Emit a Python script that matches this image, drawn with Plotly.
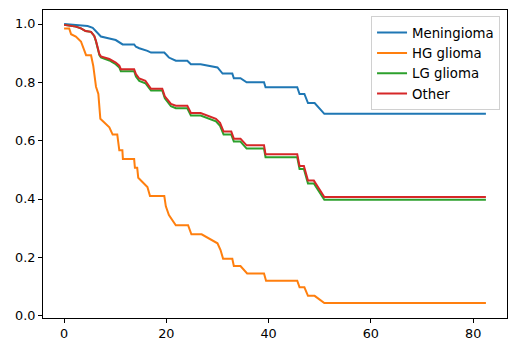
import plotly.graph_objects as go

series_names = ["Meningioma", "HG glioma", "LG glioma", "Other"]
colors = ["#1f77b4", "#ff7f0e", "#2ca02c", "#d62728"]

men_t = [0, 2, 4.6, 5.6, 6.24, 7.2, 8.85, 10.1, 11.45, 13.7, 14.05, 14.7, 16.3, 17, 19.6, 20.5,
         21.85, 24.1, 24.8, 26.7, 30, 31, 32.9, 33.2, 34.5, 35.7, 39.1, 39.4, 45.6, 46.05, 47,
         47.7, 49, 50.9, 82.5]
men_s = [1.0, 0.998, 0.993, 0.987, 0.976, 0.957, 0.95, 0.945, 0.93, 0.93, 0.922, 0.917, 0.908,
         0.902, 0.902, 0.885, 0.874, 0.874, 0.862, 0.862, 0.851, 0.83, 0.83, 0.814, 0.814, 0.8,
         0.8, 0.783, 0.783, 0.76, 0.76, 0.729, 0.729, 0.692, 0.692]

hg_t = [0, 1.0, 1.37, 2.3, 3.3, 4.3, 5.27, 5.7, 6.24, 6.7, 7.09, 8.2, 8.85, 9.5, 10.4, 10.8,
        11.4, 11.5, 13.7, 13.85, 14.3, 14.5, 16.3, 16.8, 19.6, 19.9, 20.5, 21.85, 24.25, 24.9,
        26.9, 30, 30.6, 31.1, 32.9, 33.2, 34.5, 35.8, 39.1, 39.5, 45.6, 46.05, 47, 47.7, 49,
        50.9, 82.5]
hg_s = [0.985, 0.985, 0.965, 0.957, 0.94, 0.893, 0.893, 0.857, 0.785, 0.76, 0.675, 0.658,
        0.646, 0.621, 0.621, 0.567, 0.567, 0.537, 0.537, 0.507, 0.507, 0.473, 0.441, 0.41,
        0.41, 0.375, 0.345, 0.31, 0.31, 0.279, 0.279, 0.248, 0.225, 0.195, 0.195, 0.17, 0.17,
        0.145, 0.145, 0.12, 0.12, 0.097, 0.097, 0.068, 0.068, 0.043, 0.043]

lg_t = [0, 2.3, 3.3, 4.2, 5.27, 5.9, 6.24, 6.9, 7.2, 8.85, 10.1, 10.8, 11.1, 13.7, 14.05, 14.7,
        15.9, 17, 19.2, 19.7, 20.9, 21.85, 24.1, 24.8, 26.7, 29.7, 30.5, 31.2, 32.7, 33.2, 34.5,
        35.7, 39.1, 39.4, 45.6, 46.05, 46.9, 47.7, 48.85, 50.9, 82.5]
lg_s = [0.997, 0.991, 0.985, 0.976, 0.973, 0.959, 0.94, 0.893, 0.885, 0.875, 0.862, 0.851,
        0.838, 0.838, 0.82, 0.805, 0.797, 0.772, 0.772, 0.745, 0.718, 0.711, 0.711, 0.686,
        0.686, 0.666, 0.651, 0.621, 0.621, 0.597, 0.597, 0.573, 0.573, 0.543, 0.543, 0.503,
        0.503, 0.453, 0.453, 0.397, 0.397]

oth_t = [0, 2.3, 3.3, 4.2, 5.27, 5.9, 6.24, 6.9, 7.2, 8.85, 10.1, 10.8, 11.1, 13.7, 14.05, 14.7,
         15.9, 17, 19.2, 19.7, 20.9, 21.85, 24.1, 24.8, 26.7, 29.7, 30.5, 31.2, 32.7, 33.2, 34.5,
         35.7, 39.1, 39.4, 45.6, 46.05, 46.9, 47.7, 48.85, 50.9, 82.5]
oth_s = [0.997, 0.991, 0.985, 0.976, 0.973, 0.959, 0.942, 0.897, 0.889, 0.88, 0.868, 0.857,
         0.845, 0.845, 0.828, 0.813, 0.805, 0.778, 0.778, 0.752, 0.726, 0.72, 0.72, 0.695,
         0.695, 0.675, 0.661, 0.631, 0.631, 0.607, 0.607, 0.584, 0.584, 0.553, 0.553, 0.513,
         0.513, 0.463, 0.463, 0.407, 0.407]

x_ticks = [0, 20, 40, 60, 80]
y_ticks = [0.0, 0.2, 0.4, 0.6, 0.8, 1.0]

data = [(men_t, men_s), (hg_t, hg_s), (lg_t, lg_s), (oth_t, oth_s)]

fig = go.Figure()
for name, col, (t, s) in zip(series_names, colors, data):
    fig.add_trace(go.Scatter(x=t, y=s, mode="lines", name=name,
                             line=dict(color=col, width=2)))

font = dict(family="DejaVu Sans", size=12.8, color="black")
legend_font = dict(family="DejaVu Sans", size=13.3, color="black")
fig.update_layout(
    width=516, height=351,
    margin=dict(l=42.5, r=9, t=9.5, b=33),
    paper_bgcolor="white", plot_bgcolor="white",
    font=font,
    showlegend=True,
    legend=dict(x=0.985, y=0.979, xanchor="right", yanchor="top",
                bgcolor="rgba(255,255,255,0.8)", bordercolor="#d0d0d0", borderwidth=1,
                font=legend_font, tracegroupgap=0, itemwidth=30),
)
fig.update_xaxes(range=[-4.125, 86.625], tickvals=x_ticks, ticktext=[str(v) for v in x_ticks],
                 showgrid=False, zeroline=False, showline=True, linecolor="black", linewidth=1,
                 mirror=True, ticks="outside", ticklen=4, tickcolor="black", tickwidth=1)
fig.update_yaxes(range=[-0.008, 1.048], tickvals=y_ticks, ticktext=[f"{v:.1f}" for v in y_ticks],
                 showgrid=False, zeroline=False, showline=True, linecolor="black", linewidth=1,
                 mirror=True, ticks="outside", ticklen=4, tickcolor="black", tickwidth=1)

fig.write_html("out.html")
